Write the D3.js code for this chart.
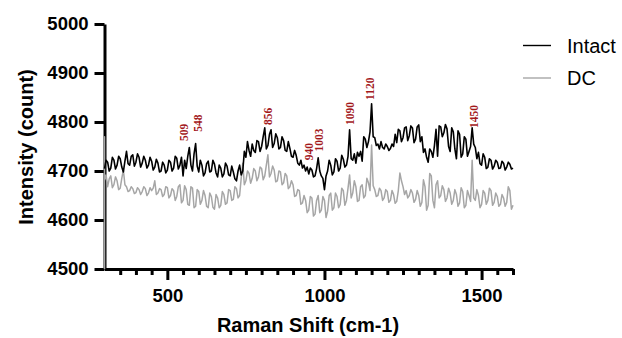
<!DOCTYPE html>
<html>
<head>
<meta charset="utf-8">
<script src="https://cdn.jsdelivr.net/npm/d3@7"></script>
<style>
  body { margin: 0; background: #fff; }
  svg { display: block; }
</style>
</head>
<body>
<div id="chart"></div>
<script>
// Raman shift grid (cm-1), one reading every 5 units
const ramanShift = d3.range(300, 1601, 5);

// Intact spectrum
const intact = [
  4705, 4722, 4718, 4700, 4706, 4728, 4722, 4704, 4712, 4730,
  4725, 4708, 4698, 4720, 4740, 4715, 4712, 4730, 4733, 4710,
  4718, 4735, 4728, 4708, 4716, 4730, 4722, 4706, 4712, 4728,
  4720, 4702, 4708, 4724, 4716, 4698, 4700, 4718, 4712, 4696,
  4702, 4722, 4718, 4700, 4706, 4730, 4726, 4704, 4712, 4728,
  4690, 4722, 4705, 4730, 4748, 4712, 4700, 4735, 4756, 4710,
  4698, 4722, 4712, 4690, 4696, 4715, 4720, 4698, 4700, 4722,
  4714, 4696, 4688, 4712, 4706, 4688, 4694, 4716, 4710, 4692,
  4690, 4710, 4698, 4684, 4680, 4700, 4712, 4692, 4700, 4740,
  4728, 4760, 4742, 4730, 4755, 4742, 4738, 4762, 4760, 4740,
  4750, 4770, 4788, 4745, 4752, 4775, 4784, 4748, 4756, 4776,
  4768, 4745, 4748, 4770, 4762, 4742, 4740, 4760, 4746, 4730,
  4728, 4742, 4732, 4716, 4712, 4722, 4706, 4712, 4700, 4708,
  4694, 4706, 4702, 4688, 4690, 4705, 4727, 4700, 4690, 4685,
  4662, 4690, 4700, 4722, 4712, 4692, 4698, 4725, 4720, 4700,
  4706, 4732, 4724, 4708, 4712, 4730, 4784, 4725, 4722, 4735,
  4716, 4738, 4730, 4740, 4720, 4770, 4765, 4748, 4760, 4780,
  4837, 4770, 4768, 4752, 4755, 4745, 4760, 4748, 4745, 4755,
  4750, 4742, 4746, 4755, 4750, 4775, 4758, 4785, 4782, 4760,
  4768, 4788, 4790, 4762, 4772, 4792, 4788, 4758, 4765, 4790,
  4794, 4760, 4770, 4738, 4745, 4728, 4718, 4745, 4740, 4728,
  4752, 4785, 4730, 4792, 4790, 4770, 4778, 4795, 4786, 4750,
  4740, 4788, 4780, 4745, 4725, 4782, 4775, 4728, 4735, 4770,
  4765, 4730, 4740, 4750, 4788, 4755, 4748, 4725, 4738, 4715,
  4712, 4735, 4728, 4705, 4708, 4725, 4722, 4704, 4710, 4722,
  4718, 4705, 4706, 4720, 4716, 4702, 4708, 4718, 4714, 4704,
  4706
];

// DC spectrum
const dc = [
  4680, 4692, 4668, 4684, 4690, 4666, 4672, 4688, 4680, 4662,
  4665, 4685, 4702, 4672, 4668, 4658, 4660, 4668, 4664, 4654,
  4656, 4666, 4662, 4652, 4658, 4668, 4664, 4650, 4655, 4666,
  4660, 4665, 4680, 4652, 4655, 4664, 4662, 4648, 4652, 4668,
  4666, 4645, 4650, 4664, 4660, 4640, 4648, 4668, 4672, 4635,
  4640, 4670, 4662, 4632, 4630, 4668, 4665, 4625, 4628, 4662,
  4658, 4632, 4640, 4660, 4650, 4628, 4625, 4655, 4648, 4626,
  4622, 4652, 4645, 4625, 4630, 4658, 4652, 4632, 4635, 4662,
  4660, 4640, 4642, 4668, 4664, 4645, 4650, 4685, 4716, 4672,
  4680, 4700, 4695, 4675, 4685, 4705, 4700, 4680, 4688, 4708,
  4705, 4682, 4690, 4712, 4733, 4688, 4695, 4710, 4702, 4678,
  4680, 4700, 4698, 4672, 4676, 4695, 4690, 4664, 4668, 4680,
  4672, 4648, 4650, 4662, 4660, 4632, 4635, 4650, 4640, 4615,
  4620, 4648, 4645, 4608, 4612, 4640, 4650, 4615, 4620, 4648,
  4640, 4605, 4618, 4650, 4655, 4620, 4625, 4655, 4648, 4625,
  4632, 4665, 4660, 4630, 4640, 4665, 4692, 4645, 4655, 4680,
  4668, 4638, 4640, 4668, 4672, 4645, 4650, 4685, 4676, 4660,
  4753, 4670, 4662, 4648, 4650, 4665, 4660, 4640, 4645, 4662,
  4658, 4636, 4640, 4660, 4652, 4634, 4638, 4660, 4696, 4680,
  4668, 4652, 4660, 4645, 4650, 4662, 4655, 4636, 4642, 4660,
  4650, 4628, 4636, 4682, 4668, 4620, 4630, 4695, 4690, 4640,
  4625, 4672, 4680, 4645, 4650, 4670, 4662, 4638, 4645, 4665,
  4655, 4632, 4640, 4662, 4652, 4628, 4635, 4666, 4658, 4625,
  4630, 4660, 4650, 4638, 4722, 4645, 4640, 4662, 4650, 4625,
  4632, 4660, 4655, 4632, 4640, 4665, 4660, 4630, 4636, 4655,
  4648, 4628, 4632, 4652, 4645, 4628, 4636, 4668, 4660, 4622,
  4630
];
// the DC trace rises straight up from the floor at the left edge
const dcEdge = [4500, 4770];

// peak annotations: label, where it sits (shift), and its lower end (intensity)
const peakLabels = ['509', '548', '856', '940', '1003', '1090', '1120', '1450'];
const peakShift = [553, 598, 820, 950, 983, 1081, 1145, 1476];
const peakBase = [4761, 4780, 4794, 4722, 4740, 4794, 4845, 4788];

const yTicks = [4500, 4600, 4700, 4800, 4900, 5000];
const xMajor = [500, 1000, 1500];
const xMinor = d3.range(350, 1601, 50).filter(d => xMajor.indexOf(d) < 0);

const seriesNames = ['Intact', 'DC'];
const seriesColors = ['#000000', '#a6a6a6'];

const width = 622;
const height = 338;
const sans = 'Liberation Sans, Arial, Helvetica, sans-serif';
const serif = 'Liberation Serif, Times New Roman, serif';

const svg = d3.select('#chart')
  .append('svg')
  .attr('width', width)
  .attr('height', height);

const x = d3.scaleLinear().domain([300, 1600]).range([104.5, 513]);
const y = d3.scaleLinear().domain([4500, 5000]).range([269, 24]);

// axes
const yAxis = d3.axisLeft(y).tickValues(yTicks).tickSize(10).tickSizeOuter(0)
  .tickPadding(6).tickFormat(d3.format('d'));
const gy = svg.append('g')
  .attr('transform', `translate(${x(300)},0)`)
  .call(yAxis);
gy.select('.domain').attr('stroke-width', 3);
gy.selectAll('.tick line').attr('stroke-width', 3);
gy.selectAll('.tick text')
  .style('font-family', sans)
  .style('font-weight', 'bold')
  .style('font-size', '18.5px')
  .attr('fill', '#000');

const gxMinor = svg.append('g')
  .attr('transform', `translate(0,${y(4500)})`)
  .call(d3.axisBottom(x).tickValues(xMinor).tickSize(6).tickSizeOuter(0).tickFormat(''));
gxMinor.select('.domain').attr('stroke-width', 3);
gxMinor.selectAll('.tick line').attr('stroke-width', 3);

const gx = svg.append('g')
  .attr('transform', `translate(0,${y(4500)})`)
  .call(d3.axisBottom(x).tickValues(xMajor).tickSize(11).tickSizeOuter(0)
    .tickPadding(9).tickFormat(d3.format('d')));
gx.select('.domain').remove();
gx.selectAll('.tick line').attr('stroke-width', 3);
gx.selectAll('.tick text')
  .style('font-family', sans)
  .style('font-weight', 'bold')
  .style('font-size', '18.5px')
  .attr('fill', '#000');

// axis titles
svg.append('text')
  .attr('transform', `translate(26,${(y(4500) + y(5000)) / 2 + 0.5}) rotate(-90)`)
  .attr('text-anchor', 'middle')
  .attr('dy', '0.35em')
  .style('font-family', sans)
  .style('font-weight', 'bold')
  .style('font-size', '20px')
  .text('Intensity (count)');

svg.append('text')
  .attr('x', 308)
  .attr('y', 332)
  .attr('text-anchor', 'middle')
  .style('font-family', sans)
  .style('font-weight', 'bold')
  .style('font-size', '20px')
  .text('Raman Shift (cm-1)');

// spectra
const line = d3.line()
  .x(d => x(d[0]))
  .y(d => y(d[1]));

const dcPoints = dcEdge.map(v => [300, v]).concat(ramanShift.map((s, i) => [s, dc[i]]));
const intactPoints = ramanShift.map((s, i) => [s, intact[i]]);

svg.append('path')
  .datum(dcPoints)
  .attr('fill', 'none')
  .attr('stroke', seriesColors[1])
  .attr('stroke-width', 1.5)
  .attr('stroke-linejoin', 'round')
  .attr('d', line);

svg.append('path')
  .datum(intactPoints)
  .attr('fill', 'none')
  .attr('stroke', seriesColors[0])
  .attr('stroke-width', 1.6)
  .attr('stroke-linejoin', 'round')
  .attr('d', line);

// peak labels
svg.selectAll('.peak')
  .data(peakLabels)
  .enter()
  .append('text')
  .attr('class', 'peak')
  .attr('transform', (d, i) => `translate(${x(peakShift[i])},${y(peakBase[i])}) rotate(-90)`)
  .attr('dy', '0.35em')
  .attr('fill', '#a3191c')
  .style('font-family', serif)
  .style('font-weight', 'bold')
  .style('font-size', '11.5px')
  .text(d => d);

// legend
const legend = svg.append('g');
seriesNames.forEach((name, i) => {
  const ly = 45.5 + i * 32.5;
  legend.append('line')
    .attr('x1', 523).attr('x2', 551)
    .attr('y1', ly).attr('y2', ly)
    .attr('stroke', seriesColors[i])
    .attr('stroke-width', 1.4);
  legend.append('text')
    .attr('x', 567)
    .attr('y', ly)
    .attr('dy', '0.35em')
    .style('font-family', sans)
    .style('font-size', '20px')
    .text(name);
});
</script>
</body>
</html>
